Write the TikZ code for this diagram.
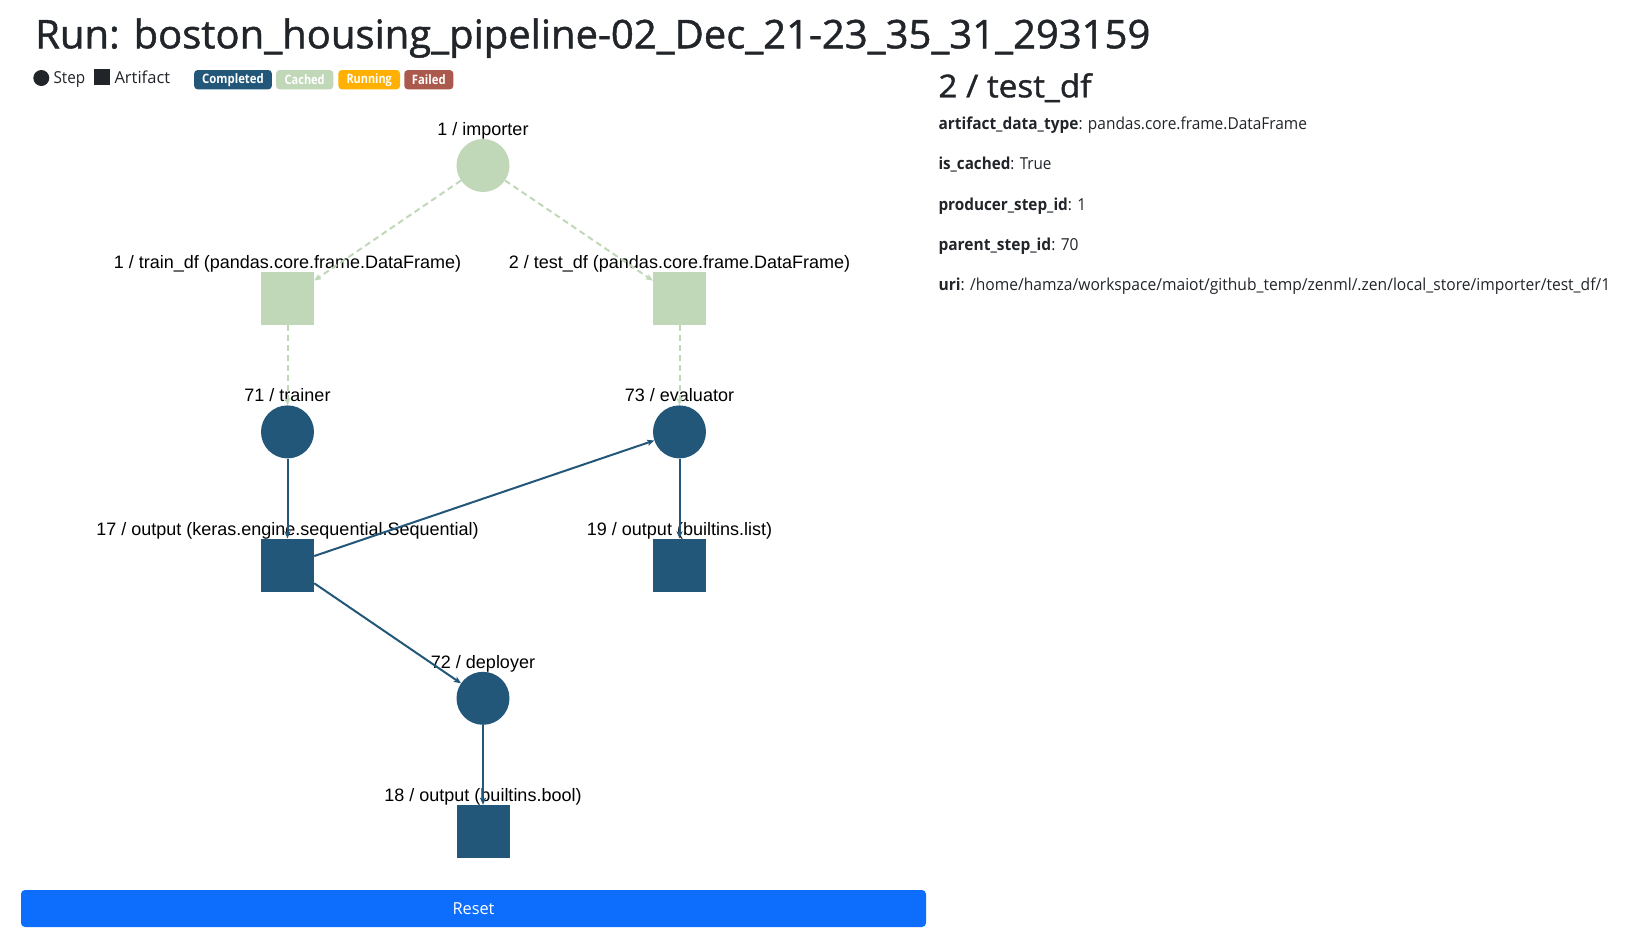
\documentclass[tikz,border=0pt]{standalone}
\usepackage{fontspec}
\setmainfont{Open Sans}
\newfontfamily\headfont[FakeBold=1.2]{Open Sans}
\newfontfamily\arialfont{Liberation Sans}
\usetikzlibrary{arrows.meta}
\definecolor{stepblue}{HTML}{22577A}
\definecolor{cachedgreen}{HTML}{C0D8B8}
\definecolor{runningc}{HTML}{FFB000}
\definecolor{failedc}{HTML}{AB594C}
\definecolor{resetblue}{HTML}{0D6EFD}
\definecolor{darktext}{HTML}{212529}
\newcommand\fitw[2]{\resizebox{#1}{\height}{#2}}
\tikzset{
  stepnode/.style={circle, minimum size=53pt, inner sep=0pt},
  artnode/.style={rectangle, minimum size=53pt, inner sep=0pt},
  glab/.style={anchor=base, inner sep=0pt, font=\arialfont\fontsize{18}{20}\selectfont, text=black},
  badge/.style={rectangle, rounded corners=3.5pt, minimum height=19.3pt, inner sep=0pt, text=white, font=\bfseries\fontsize{13}{15}\selectfont},
  bodytxt/.style={anchor=base west, inner sep=0pt, text=darktext, font=\fontsize{16.5}{20}\selectfont},
  cedge/.style={draw=cachedgreen, line width=2pt, dash pattern=on 6pt off 4pt, -{Stealth[length=7pt,width=6pt,inset=1.5pt]}},
  bedge/.style={draw=stepblue, line width=2pt, -{Stealth[length=7pt,width=6pt,inset=1.5pt]}}
}
\begin{document}
\begin{tikzpicture}[x=1pt,y=-1pt]
\useasboundingbox (0,0) rectangle (1650,939);
% title
\node[anchor=base west, inner sep=0pt, text=darktext, font=\headfont\fontsize{39.5}{48}\selectfont] (title) at (35,48.3) {\fitw{1115pt}{Run: boston\_housing\_pipeline-02\_Dec\_21-23\_35\_31\_293159}};
% legend
\node[circle, fill=darktext, minimum size=16pt, inner sep=0pt] (legstep) at (41.3,78) {};
\node[bodytxt] (legsteptxt) at (53.3,83.5) {\fitw{31.7pt}{Step}};
\node[rectangle, fill=darktext, minimum size=16pt, inner sep=0pt] (legart) at (102,77.2) {};
\node[bodytxt] (legarttxt) at (114.3,83.5) {\fitw{55.7pt}{Artifact}};
\node[badge, fill=stepblue, minimum width=77.7pt] (bcompleted) at (233,79.7) {\fitw{61.7pt}{Completed}};
\node[badge, fill=cachedgreen, minimum width=57.3pt] (bcached) at (304.7,79.7) {\fitw{40pt}{Cached}};
\node[badge, fill=runningc, minimum width=61.7pt] (brunning) at (369.2,79.7) {\fitw{45.3pt}{Running}};
\node[badge, fill=failedc, minimum width=49pt] (bfailed) at (428.8,79.7) {\fitw{33.7pt}{Failed}};
% graph nodes
\node[stepnode, fill=cachedgreen] (importer) at (483,165.5) {};
\node[artnode, fill=cachedgreen] (traindf) at (287.5,298.7) {};
\node[artnode, fill=cachedgreen] (testdf) at (679.5,298.7) {};
\node[stepnode, fill=stepblue] (trainer) at (287.5,431.9) {};
\node[stepnode, fill=stepblue] (evaluator) at (679.5,431.9) {};
\node[artnode, fill=stepblue] (seq) at (287.5,565.1) {};
\node[artnode, fill=stepblue] (listout) at (679.5,565.1) {};
\node[stepnode, fill=stepblue] (deployer) at (483,698.3) {};
\node[artnode, fill=stepblue] (boolout) at (483,831.5) {};
% labels
\node[glab] (limporter) at (483,135.5) {1 / importer};
\node[glab] (ltraindf) at (287.5,268.7) {1 / train\_df (pandas.core.frame.DataFrame)};
\node[glab] (ltestdf) at (679.5,268.7) {2 / test\_df (pandas.core.frame.DataFrame)};
\node[glab] (ltrainer) at (287.5,401.9) {71 / trainer};
\node[glab] (levaluator) at (679.5,401.9) {73 / evaluator};
\node[glab] (lseq) at (287.5,535.1) {17 / output (keras.engine.sequential.Sequential)};
\node[glab] (llist) at (679.5,535.1) {19 / output (builtins.list)};
\node[glab] (ldeployer) at (483,668.3) {72 / deployer};
\node[glab] (lbool) at (483,801.5) {18 / output (builtins.bool)};
% edges
\draw[cedge] (importer) -- (traindf);
\draw[cedge] (importer) -- (testdf);
\draw[cedge] (traindf) -- (trainer);
\draw[cedge] (testdf) -- (evaluator);
\draw[bedge] (trainer) -- (seq);
\draw[bedge] (evaluator) -- (listout);
\draw[bedge] (seq) -- (evaluator);
\draw[bedge] (seq) -- (deployer);
\draw[bedge] (deployer) -- (boolout);
% right panel
\node[anchor=base west, inner sep=0pt, text=darktext, font=\headfont\fontsize{31.5}{38}\selectfont] (head) at (938.3,97.3) {\fitw{153pt}{2 / test\_df}};
\node[bodytxt] (p1) at (938.3,130) {\fitw{368.5pt}{\textbf{artifact\_data\_type}: pandas.core.frame.DataFrame}};
\node[bodytxt] (p2) at (938.3,170) {\fitw{113pt}{\textbf{is\_cached}: True}};
\node[bodytxt] (p3) at (938.3,210) {\fitw{147.5pt}{\textbf{producer\_step\_id}: 1}};
\node[bodytxt] (p4) at (938.3,250) {\fitw{140pt}{\textbf{parent\_step\_id}: 70}};
\node[bodytxt] (p5) at (938.3,290) {\fitw{671.7pt}{\textbf{uri}: /home/hamza/workspace/maiot/github\_temp/zenml/.zen/local\_store/importer/test\_df/1}};
% reset button
\node[rectangle, fill=resetblue, rounded corners=4pt, minimum width=905pt, minimum height=37pt, inner sep=0pt, text=white, font=\fontsize{16.5}{20}\selectfont] (reset) at (473.5,908.5) {\fitw{42pt}{Reset}};
\end{tikzpicture}
\end{document}
